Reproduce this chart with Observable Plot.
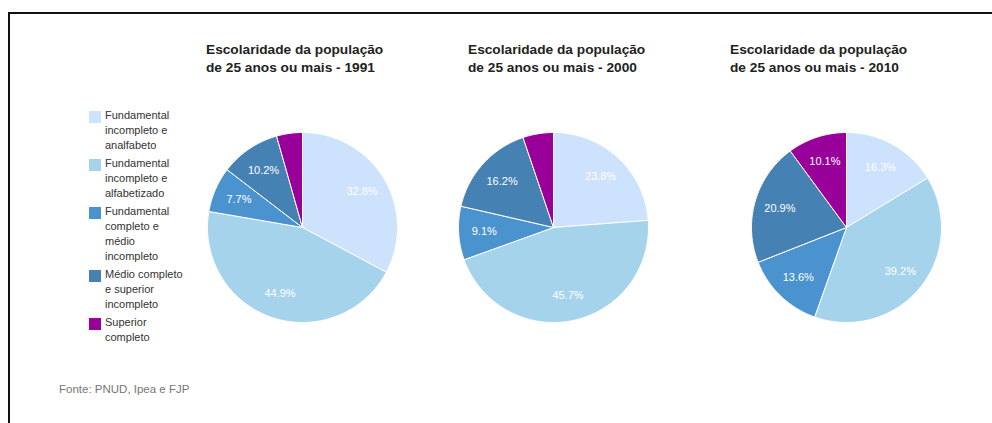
<!DOCTYPE html>
<html>
<head>
<meta charset="utf-8">
<script src="https://cdn.jsdelivr.net/npm/d3@7"></script>
<script src="https://cdn.jsdelivr.net/npm/@observablehq/plot@0.6"></script>
<style>
  html, body { margin: 0; padding: 0; background: #fff; }
  body { width: 992px; height: 423px; position: relative; overflow: hidden; font-family: Arial, "Liberation Sans", sans-serif; }
  #frame { position: absolute; left: 8px; top: 12px; width: 984px; height: 411px; border-left: 2px solid #111; border-top: 2px solid #111; box-sizing: border-box; }
  .title { position: absolute; top: 41px; font-size: 13.7px; font-weight: bold; line-height: 18px; color: #222; white-space: nowrap; }
  .pie { position: absolute; top: 127px; }
  #legend { position: absolute; left: 89px; top: 108px; font-size: 11px; line-height: 15px; color: #333; }
  .item { position: relative; padding-left: 16px; margin-bottom: 3px; width: 110px; }
  .sw { position: absolute; left: 0; top: 3px; width: 12px; height: 12px; }
  #source { position: absolute; left: 59px; top: 383px; font-size: 11.5px; color: #777; white-space: nowrap; }
</style>
</head>
<body>
<div id="frame"></div>
<div id="legend"></div>
<div id="charts"></div>
<div id="source">Fonte: PNUD, Ipea e FJP</div>
<script>
const categories = [
  "Fundamental incompleto e analfabeto",
  "Fundamental incompleto e alfabetizado",
  "Fundamental completo e médio incompleto",
  "Médio completo e superior incompleto",
  "Superior completo"
];
const legendLines = [
  ["Fundamental", "incompleto e", "analfabeto"],
  ["Fundamental", "incompleto e", "alfabetizado"],
  ["Fundamental", "completo e", "médio", "incompleto"],
  ["Médio completo", "e superior", "incompleto"],
  ["Superior", "completo"]
];
const colors = ["#cde2fd", "#a6d3ec", "#4b93cf", "#4681b4", "#990099"];
const years = ["1991", "2000", "2010"];
const values1991 = [32.8, 44.9, 7.7, 10.2, 4.4];
const values2000 = [23.8, 45.7, 9.1, 16.2, 5.2];
const values2010 = [16.3, 39.2, 13.6, 20.9, 10.1];
const titleLine1 = "Escolaridade da população";
const titleLine2 = "de 25 anos ou mais - ";

const seriesByYear = [values1991, values2000, values2010];
const pieLeft = [202, 453, 746];
const titleLeft = [206, 468, 730];

// legend
const legend = document.getElementById("legend");
categories.forEach((c, i) => {
  const it = document.createElement("div");
  it.className = "item";
  const sw = document.createElement("div");
  sw.className = "sw";
  sw.style.background = colors[i];
  it.appendChild(sw);
  it.insertAdjacentHTML("beforeend", legendLines[i].join("<br>"));
  legend.appendChild(it);
});

function piePlot(values) {
  const total = d3.sum(values);
  let cum = 0;
  const slices = categories.map((cat, i) => {
    const a0 = cum / total * 2 * Math.PI;
    cum += values[i];
    const a1 = cum / total * 2 * Math.PI;
    return {cat, value: values[i], a0, a1};
  });
  const pts = [];
  slices.forEach(s => {
    pts.push({cat: s.cat, x: 0, y: 0});
    const n = Math.max(2, Math.ceil((s.a1 - s.a0) / (Math.PI / 180)));
    for (let k = 0; k <= n; k++) {
      const a = s.a0 + (s.a1 - s.a0) * k / n;
      pts.push({cat: s.cat, x: Math.sin(a), y: Math.cos(a)});
    }
    pts.push({cat: s.cat, x: 0, y: 0});
  });
  const labels = slices.filter(s => s.value >= 6).map(s => {
    const m = (s.a0 + s.a1) / 2;
    return {x: 0.73 * Math.sin(m), y: 0.73 * Math.cos(m), text: s.value.toFixed(1) + "%"};
  });
  return Plot.plot({
    width: 200, height: 200, margin: 0,
    style: {fontFamily: "Arial, 'Liberation Sans', sans-serif", background: "transparent", overflow: "visible"},
    x: {domain: [-1, 1], range: [5, 195], axis: null},
    y: {domain: [-1, 1], range: [195, 5], axis: null},
    color: {domain: categories, range: colors},
    marks: [
      Plot.line(pts, {x: "x", y: "y", z: "cat", fill: "cat", stroke: "white", strokeWidth: 1, strokeLinejoin: "miter"}),
      Plot.text(labels, {x: "x", y: "y", text: "text", fill: "white", fontSize: 11})
    ]
  });
}

const charts = document.getElementById("charts");
years.forEach((yr, i) => {
  const t = document.createElement("div");
  t.className = "title";
  t.style.left = titleLeft[i] + "px";
  t.innerHTML = titleLine1 + "<br>" + titleLine2 + yr;
  charts.appendChild(t);
  const p = document.createElement("div");
  p.className = "pie";
  p.style.left = pieLeft[i] + "px";
  p.appendChild(piePlot(seriesByYear[i]));
  charts.appendChild(p);
});
</script>
</body>
</html>
